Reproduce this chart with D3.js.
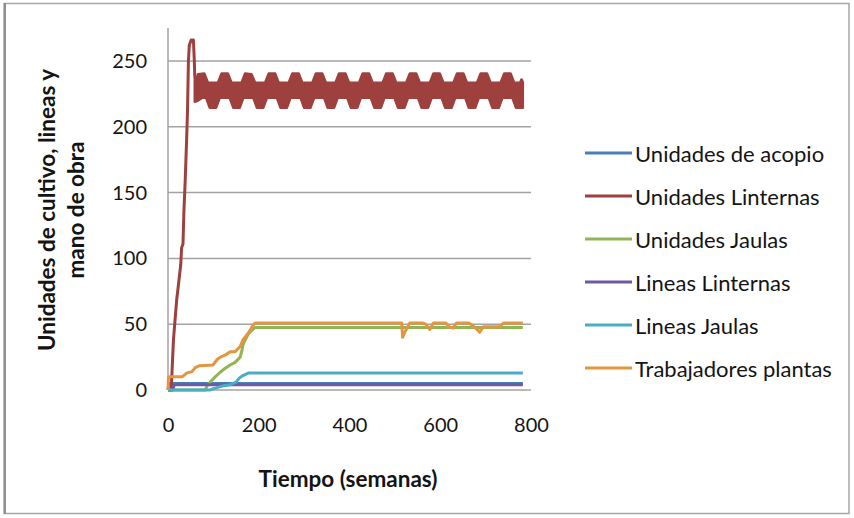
<!DOCTYPE html>
<html>
<head>
<meta charset="utf-8">
<script src="https://cdn.jsdelivr.net/npm/d3@7"></script>
<style>
  html, body { margin: 0; padding: 0; background: #fff; }
  svg { display: block; }
  text { font-family: Lato, "Open Sans", sans-serif; fill: #141414; }
</style>
</head>
<body>
<svg id="chart" width="854" height="518"></svg>
<script>
// Axis ticks
const weekTicks = [0, 200, 400, 600, 800];
const valueTicks = [0, 50, 100, 150, 200, 250];

// Series as [week, value]
const unidadesAcopio = [[0, 0], [2, 5], [782, 5]];

// Ramp-up of the lantern units before the seasonal regime
const unidadesLinternasRise = [
  [0, 0], [7, 0], [9, 15], [12, 38], [15, 51], [19, 68], [24, 83], [28, 95],
  [30, 108], [33, 111], [35, 135], [38, 160], [41, 190], [43, 212], [45, 250],
  [47, 262], [51, 266], [56, 266], [58, 250], [59, 238]
];
// Weekly maxima / minima of the lantern units in the seasonal regime
const unidadesLinternasMax = [
  [59, 238], [63, 236], [66, 240], [80, 240.5], [88, 233.5], [110, 233.5],
  [118, 240.5], [132, 240.5], [140, 233.5], [162, 233.5],
  [170, 240.5], [184, 240], [192, 233.5], [214, 233.5],
  [222, 240.5], [236, 240.5], [244, 233.5], [266, 233.5],
  [274, 240.5], [288, 240.5], [296, 233.5], [318, 233.5],
  [326, 240.5], [340, 240.5], [348, 233.5], [369, 233.5],
  [377, 240.5], [391, 240.5], [399, 233.5], [421, 233.5],
  [429, 240.5], [443, 240.5], [451, 233.5], [473, 233.5],
  [481, 240.5], [495, 240.5], [503, 233.5], [525, 233.5],
  [533, 240.5], [547, 240.5], [555, 233.5], [577, 233.5],
  [585, 240.5], [599, 240.5], [607, 233.5], [629, 233.5],
  [637, 240.5], [651, 240.5], [659, 233.5], [681, 233.5],
  [689, 240.5], [703, 240.5], [711, 233.5], [733, 233.5],
  [741, 240.5], [755, 240.5], [763, 233.5], [776, 233.5], [779, 236], [782, 234]
];
const unidadesLinternasMin = [
  [59, 219], [66, 220], [75, 222], [84, 222],
  [92, 214.5], [106, 214.5], [114, 222], [136, 222],
  [144, 214.5], [158, 214.5], [166, 222], [188, 222],
  [196, 214.5], [210, 214.5], [218, 222], [240, 222],
  [248, 214.5], [262, 214.5], [270, 222], [292, 222],
  [300, 214.5], [314, 214.5], [322, 222], [344, 222],
  [352, 214.5], [366, 214.5], [374, 222], [395, 222],
  [403, 214.5], [417, 214.5], [425, 222], [447, 222],
  [455, 214.5], [469, 214.5], [477, 222], [499, 222],
  [507, 214.5], [521, 214.5], [529, 222], [551, 222],
  [559, 214.5], [573, 214.5], [581, 222], [603, 222],
  [611, 214.5], [625, 214.5], [633, 222], [655, 222],
  [663, 214.5], [677, 214.5], [685, 222], [707, 222],
  [715, 214.5], [729, 214.5], [737, 222], [759, 222],
  [767, 214.5], [782, 214.5]
];

const unidadesJaulas = [
  [0, 0], [82, 0], [86, 3], [93, 6], [104, 10], [115, 13.5], [126, 16.5],
  [137, 19], [148, 21], [159, 25], [163, 30], [165, 34], [170, 38],
  [176, 42], [185, 45.5], [192, 47.5], [782, 47.5]
];
const lineasLinternas = [[0, 0], [10, 0], [14, 4], [782, 4]];
const lineasJaulas = [
  [0, 0], [92, 0], [100, 1], [110, 2], [120, 3], [137, 4], [150, 6],
  [157, 9], [165, 11], [178, 13], [782, 13]
];
const trabajadoresPlantas = [
  [0, 0], [1, 10], [31, 10], [42, 13], [53, 14], [60, 17], [70, 18.5],
  [99, 19], [108, 23], [115, 25], [126, 26.5], [137, 29], [148, 29],
  [159, 33], [165, 38], [174, 42], [181, 45.5], [187, 49], [192, 51],
  [515, 51], [517, 40], [522, 44], [533, 51], [560, 51], [568, 50],
  [577, 46], [585, 51], [612, 51], [620, 48], [628, 47], [636, 51],
  [662, 51], [672, 49], [687, 44], [695, 48], [730, 48], [740, 51], [782, 51]
];

const seriesNames = [
  "Unidades de acopio", "Unidades Linternas", "Unidades Jaulas",
  "Lineas Linternas", "Lineas Jaulas", "Trabajadores plantas"
];
const seriesColors = ["#4A7EBB", "#9E403D", "#93B454", "#6F58A4", "#4BACC6", "#E3953F"];

const svg = d3.select("#chart");

// outer frame
svg.append("rect")
  .attr("x", 4).attr("y", 3.5).attr("width", 845).attr("height", 510)
  .attr("fill", "none").attr("stroke", "#a6a6a6").attr("stroke-width", 1.5);
svg.append("line")
  .attr("x1", 5).attr("x2", 5).attr("y1", 3).attr("y2", 514)
  .attr("stroke", "#8f8f8f").attr("stroke-width", 2);

const x = d3.scaleLinear().domain([0, 800]).range([168, 531]);
const y = d3.scaleLinear().domain([0, 250]).range([390, 61]);

// gridlines
svg.append("g")
  .selectAll("line")
  .data(valueTicks)
  .join("line")
  .attr("x1", x(0)).attr("x2", x(800))
  .attr("y1", d => y(d)).attr("y2", d => y(d))
  .attr("stroke", "#a3a3a3").attr("stroke-width", 1.5);

// vertical axis line
svg.append("line")
  .attr("x1", x(0)).attr("x2", x(0))
  .attr("y1", y(0)).attr("y2", 28)
  .attr("stroke", "#a3a3a3").attr("stroke-width", 1.5);

// y axis tick labels
const yAxis = d3.axisLeft(y).tickValues(valueTicks).tickSize(0).tickPadding(21);
const gy = svg.append("g").attr("transform", `translate(${x(0)},0)`).call(yAxis);
gy.select(".domain").remove();
gy.selectAll("text")
  .attr("font-family", "Lato, sans-serif").attr("font-size", 20)
  .attr("fill", "#141414");

// x axis tick labels
const xAxis = d3.axisBottom(x).tickValues(weekTicks).tickSize(0).tickPadding(28);
const gx = svg.append("g").attr("transform", `translate(0,${y(0)})`).call(xAxis);
gx.select(".domain").remove();
gx.selectAll("text")
  .attr("font-family", "Lato, sans-serif").attr("font-size", 20)
  .attr("fill", "#141414");

// axis titles
svg.append("text")
  .attr("x", 348).attr("y", 487)
  .attr("text-anchor", "middle")
  .attr("font-size", 22.5).attr("font-weight", "bold")
  .text("Tiempo (semanas)");

const yTitle = svg.append("g").attr("transform", "translate(0,210) rotate(-90)");
yTitle.append("text")
  .attr("x", 0).attr("y", 55)
  .attr("text-anchor", "middle")
  .attr("font-size", 22.5).attr("font-weight", "bold")
  .text("Unidades de cultivo, lineas y");
yTitle.append("text")
  .attr("x", 0).attr("y", 84)
  .attr("text-anchor", "middle")
  .attr("font-size", 22.5).attr("font-weight", "bold")
  .text("mano de obra");

// series
const line = d3.line().x(d => x(d[0])).y(d => y(d[1]));
const plot = svg.append("g")
  .attr("fill", "none")
  .attr("stroke-width", 3)
  .attr("stroke-linejoin", "round");

function drawLine(data, color) {
  plot.append("path").attr("d", line(data)).attr("stroke", color);
}

drawLine(unidadesAcopio, seriesColors[0]);

// lantern units: ramp-up line, then the band of weekly oscillation
drawLine(unidadesLinternasRise, seriesColors[1]);
const band = unidadesLinternasMax.concat(unidadesLinternasMin.slice().reverse());
plot.append("path")
  .attr("d", line(band) + "Z")
  .attr("fill", seriesColors[1])
  .attr("stroke", seriesColors[1])
  .attr("stroke-width", 2.5);

drawLine(unidadesJaulas, seriesColors[2]);
drawLine(lineasLinternas, seriesColors[3]);
drawLine(lineasJaulas, seriesColors[4]);
drawLine(trabajadoresPlantas, seriesColors[5]);

// legend
const legend = svg.append("g").attr("transform", "translate(585,153)");
const rows = legend.selectAll("g")
  .data(seriesNames)
  .join("g")
  .attr("transform", (d, i) => `translate(0,${i * 43})`);
rows.append("line")
  .attr("x1", 0).attr("x2", 47)
  .attr("stroke", (d, i) => seriesColors[i])
  .attr("stroke-width", 3);
rows.append("text")
  .attr("x", 50).attr("y", 0)
  .attr("dominant-baseline", "central")
  .attr("font-size", 22)
  .text(d => d);
</script>
</body>
</html>
